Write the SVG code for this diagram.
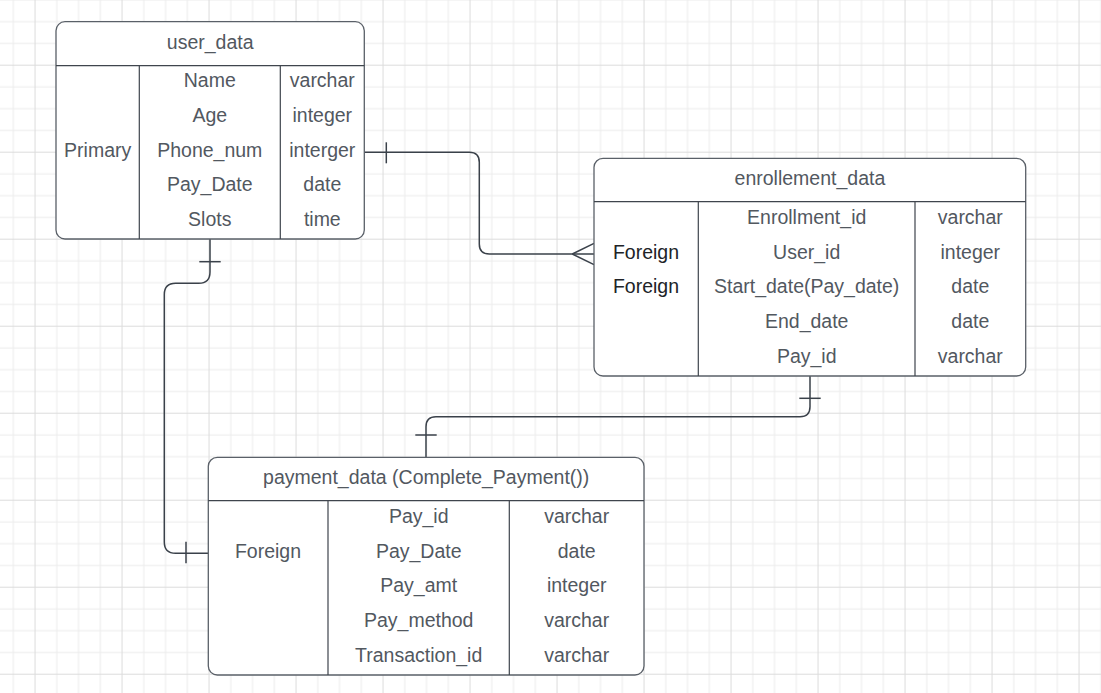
<svg xmlns="http://www.w3.org/2000/svg" width="1101" height="693" viewBox="0 0 1101 693">
  <style>
    .tbl { fill: #ffffff; stroke: #5a6068; stroke-width: 1.3; }
    .div { stroke: #3f454d; stroke-width: 1.2; fill: none; }
    .txt { font-family: "Liberation Sans", Arial, sans-serif; font-size: 19.5px; fill: #52585f; text-anchor: middle; }
    .key { fill: #202327; }
    .conn { fill: none; stroke: #3a414a; stroke-width: 1.5; }
  </style>
  <defs>
    <!-- background grid: minor lines every 21.75px, heavier line every 4th -->
    <pattern id="grid" patternUnits="userSpaceOnUse" x="34.55" y="64.7" width="87" height="87">
      <rect x="0" y="0" width="87" height="87" fill="#ffffff"/>
      <rect x="21.75" y="0" width="1" height="87" fill="#ececec"/>
      <rect x="43.5" y="0" width="1" height="87" fill="#ececec"/>
      <rect x="65.25" y="0" width="1" height="87" fill="#ececec"/>
      <rect x="0" y="21.75" width="87" height="1" fill="#ececec"/>
      <rect x="0" y="43.5" width="87" height="1" fill="#ececec"/>
      <rect x="0" y="65.25" width="87" height="1" fill="#ececec"/>
      <rect x="0" y="0" width="1" height="87" fill="#dcdcdc"/>
      <rect x="0" y="0" width="87" height="1" fill="#dcdcdc"/>
    </pattern>
  </defs>

  <rect x="0" y="0" width="1101" height="693" fill="url(#grid)"/>

  <!-- relationships -->
  <g id="connectors">
    <!-- user_data -> enrollement_data (one to many) -->
    <path class="conn" d="M364.3,152.3 H469.3 Q479.3,152.3 479.3,162.3 V244 Q479.3,254 489.3,254 H594"/>
    <path class="conn" d="M386.3,142.3 V163.3"/>
    <path class="conn" d="M572.3,254 L594,243.3 M572.3,254 L594,264.7"/>
    <!-- user_data -> payment_data (one to one) -->
    <path class="conn" d="M210,239 V272 Q210,283.3 198.7,283.3 H175.6 Q164.3,283.3 164.3,294.6 V542 Q164.3,553.3 175.6,553.3 H208.3"/>
    <path class="conn" d="M199.3,261.7 H220.7"/>
    <path class="conn" d="M186,541.7 V563.3"/>
    <!-- enrollement_data -> payment_data (one to one) -->
    <path class="conn" d="M810,376 V406.7 Q810,416.7 800,416.7 H436 Q426,416.7 426,426.7 V457.3"/>
    <path class="conn" d="M799.3,398.3 H820.7"/>
    <path class="conn" d="M415.3,435 H436.7"/>
  </g>

  <!-- user_data table -->
  <g id="user_data">
    <rect class="tbl" x="56" y="21.7" width="308.3" height="217.3" rx="9"/>
    <path class="div" d="M56,65.7 H364.3 M139.3,65.7 V239 M280.3,65.7 V239"/>
    <text class="txt" x="210.2" y="48.5">user_data</text>
    <text class="txt" x="97.7" y="156.7">Primary</text>
    <text class="txt" x="209.8" y="87.3">Name</text>
    <text class="txt" x="209.8" y="122">Age</text>
    <text class="txt" x="209.8" y="156.7">Phone_num</text>
    <text class="txt" x="209.8" y="191.4">Pay_Date</text>
    <text class="txt" x="209.8" y="226.1">Slots</text>
    <text class="txt" x="322.3" y="87.3">varchar</text>
    <text class="txt" x="322.3" y="122">integer</text>
    <text class="txt" x="322.3" y="156.7">interger</text>
    <text class="txt" x="322.3" y="191.4">date</text>
    <text class="txt" x="322.3" y="226.1">time</text>
  </g>

  <!-- enrollement_data table -->
  <g id="enrollement_data">
    <rect class="tbl" x="594" y="158.3" width="431.7" height="217.7" rx="9"/>
    <path class="div" d="M594,201.7 H1025.7 M698.3,201.7 V376 M915,201.7 V376"/>
    <text class="txt" x="809.9" y="185">enrollement_data</text>
    <text class="txt key" x="646" y="258.5">Foreign</text>
    <text class="txt key" x="646" y="293.3">Foreign</text>
    <text class="txt" x="806.7" y="223.6">Enrollment_id</text>
    <text class="txt" x="806.7" y="258.5">User_id</text>
    <text class="txt" x="806.7" y="293.3">Start_date(Pay_date)</text>
    <text class="txt" x="806.7" y="328.2">End_date</text>
    <text class="txt" x="806.7" y="363">Pay_id</text>
    <text class="txt" x="970.3" y="223.6">varchar</text>
    <text class="txt" x="970.3" y="258.5">integer</text>
    <text class="txt" x="970.3" y="293.3">date</text>
    <text class="txt" x="970.3" y="328.2">date</text>
    <text class="txt" x="970.3" y="363">varchar</text>
  </g>

  <!-- payment_data table -->
  <g id="payment_data">
    <rect class="tbl" x="208.3" y="457.3" width="435.7" height="217.7" rx="9"/>
    <path class="div" d="M208.3,500.7 H644 M328,500.7 V675 M509.3,500.7 V675"/>
    <text class="txt" x="426.2" y="484">payment_data (Complete_Payment())</text>
    <text class="txt" x="268" y="557.5">Foreign</text>
    <text class="txt" x="418.7" y="522.6">Pay_id</text>
    <text class="txt" x="418.7" y="557.5">Pay_Date</text>
    <text class="txt" x="418.7" y="592.3">Pay_amt</text>
    <text class="txt" x="418.7" y="627.2">Pay_method</text>
    <text class="txt" x="418.7" y="662">Transaction_id</text>
    <text class="txt" x="576.7" y="522.6">varchar</text>
    <text class="txt" x="576.7" y="557.5">date</text>
    <text class="txt" x="576.7" y="592.3">integer</text>
    <text class="txt" x="576.7" y="627.2">varchar</text>
    <text class="txt" x="576.7" y="662">varchar</text>
  </g>
</svg>
